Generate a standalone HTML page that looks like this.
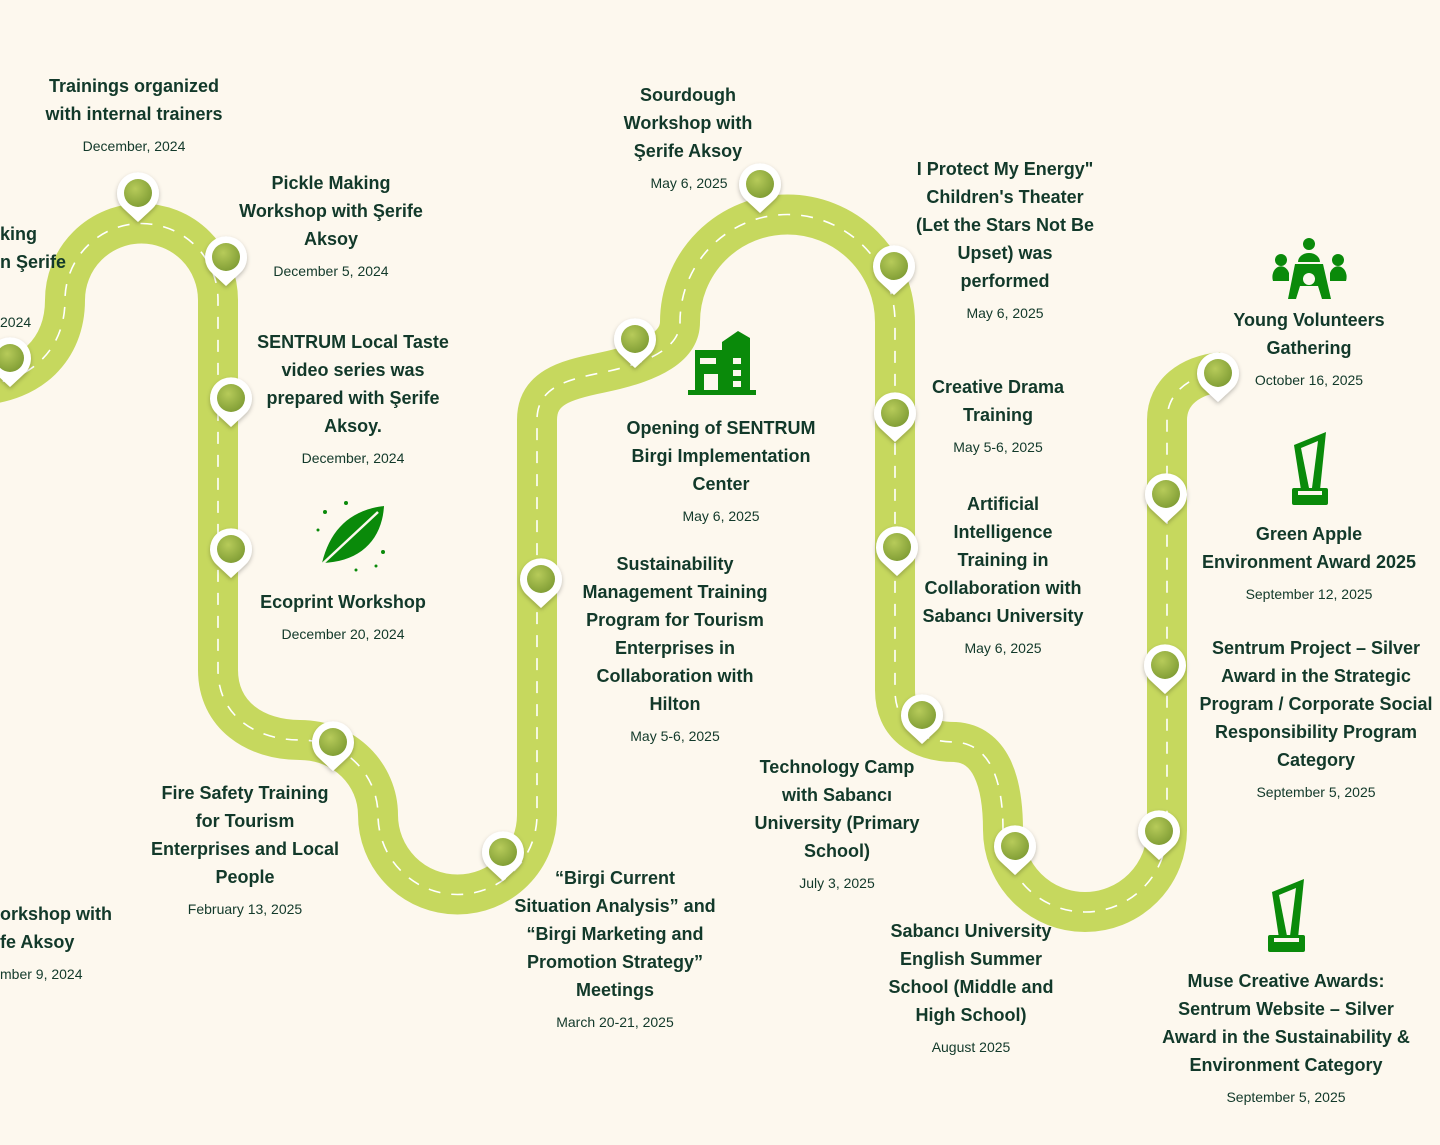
<!DOCTYPE html>
<html><head><meta charset="utf-8"><style>
html,body{margin:0;padding:0}
body{width:1440px;height:1145px;background:#fdf8ee;position:relative;overflow:hidden;font-family:"Liberation Sans",sans-serif;color:#12392a}
svg{position:absolute;left:0;top:0}
.t{position:absolute;transform:translateX(-50%);white-space:nowrap;text-align:center;font-weight:bold;font-size:18px;line-height:28px}
.d{position:absolute;transform:translateX(-50%);white-space:nowrap;text-align:center;font-size:14px;line-height:18px}
.l{transform:none;text-align:left}
</style></head><body>
<svg width="1440" height="1145" viewBox="0 0 1440 1145">
<defs>
<radialGradient id="g" cx="40%" cy="35%" r="70%"><stop offset="0" stop-color="#b7cb5a"/><stop offset="1" stop-color="#7f9c34"/></radialGradient>
<filter id="sh" x="-50%" y="-50%" width="200%" height="200%"><feDropShadow dx="0" dy="2" stdDeviation="2" flood-color="#000" flood-opacity="0.25"/></filter>
<g id="pin"><path d="M0 29 L-14 16 A21 21 0 1 1 14 16 Z" fill="#fff" filter="url(#sh)"/><circle r="14" fill="url(#g)"/></g>
</defs>
<path d="M -20 385 C 30 382, 65 350, 65 300 L 65 300 A 76.5 76.5 0 0 1 218 300 L 218 670 C 218 715, 255 740, 300 740 C 345 740, 378 775, 378 815 A 79.5 79.5 0 0 0 537 815 L 537 420 C 537 388, 565 380, 600 373 C 655 362, 680 345, 680 322 A 107.5 107.5 0 0 1 895 322 L 895 690 C 895 725, 920 742, 955 742 C 990 744, 1003 780, 1003 830 A 82 82 0 0 0 1167 830 L 1167 420 C 1167 392, 1190 375, 1222 372" fill="none" stroke="#c6d85e" stroke-width="40"/>
<path d="M -20 385 C 30 382, 65 350, 65 300 L 65 300 A 76.5 76.5 0 0 1 218 300 L 218 670 C 218 715, 255 740, 300 740 C 345 740, 378 775, 378 815 A 79.5 79.5 0 0 0 537 815 L 537 420 C 537 388, 565 380, 600 373 C 655 362, 680 345, 680 322 A 107.5 107.5 0 0 1 895 322 L 895 690 C 895 725, 920 742, 955 742 C 990 744, 1003 780, 1003 830 A 82 82 0 0 0 1167 830 L 1167 420 C 1167 392, 1190 375, 1222 372" fill="none" stroke="#fff" stroke-width="1.6" stroke-dasharray="12 11"/>
<use href="#pin" x="10" y="358"/>
<use href="#pin" x="138" y="193"/>
<use href="#pin" x="226" y="257"/>
<use href="#pin" x="231" y="398"/>
<use href="#pin" x="231" y="549"/>
<use href="#pin" x="333" y="742"/>
<use href="#pin" x="503" y="852"/>
<use href="#pin" x="541" y="579"/>
<use href="#pin" x="635" y="339"/>
<use href="#pin" x="760" y="184"/>
<use href="#pin" x="894" y="266"/>
<use href="#pin" x="895" y="413"/>
<use href="#pin" x="897" y="547"/>
<use href="#pin" x="922" y="715"/>
<use href="#pin" x="1015" y="846"/>
<use href="#pin" x="1159" y="831"/>
<use href="#pin" x="1165" y="665"/>
<use href="#pin" x="1166" y="494"/>
<use href="#pin" x="1218" y="373"/>
<g fill="#0a8a0a">
<path d="M695 350 L722 350 L722 342 L738 331 L750 338 L750 390 L695 390 Z"/>
<rect x="688" y="390" width="68" height="5"/>
<rect x="700" y="358" width="16" height="6" fill="#fdf8ee"/>
<rect x="704" y="374" width="14" height="16" fill="#fdf8ee"/>
<rect x="733" y="358" width="8" height="6" fill="#fdf8ee"/>
<rect x="733" y="370" width="8" height="6" fill="#fdf8ee"/>
<rect x="733" y="381" width="8" height="6" fill="#fdf8ee"/>
</g>
<g fill="#0a8a0a">
<path d="M322 563 C 330 530, 350 510, 384 506 C 382 540, 360 562, 322 563 Z"/>
<path d="M318 568 L378 512" stroke="#fdf8ee" stroke-width="2.5"/>
<circle cx="346" cy="503" r="2"/><circle cx="325" cy="512" r="2"/><circle cx="318" cy="530" r="1.5"/><circle cx="383" cy="552" r="2"/><circle cx="376" cy="566" r="1.5"/><circle cx="356" cy="570" r="1.5"/>
</g>
<g fill="#0a8a0a">
<circle cx="1309" cy="244" r="6"/><path d="M1298 262 a11 9 0 0 1 22 0 Z"/>
<circle cx="1281" cy="260" r="6"/><path d="M1273 281 a8 10 0 0 1 16 -8 L1289 281 Z"/>
<circle cx="1338" cy="260" r="6"/><path d="M1330 273 a8 10 0 0 1 16 8 L1330 281 Z"/>
<path d="M1295 264 L1323 264 L1331 299 L1322 299 L1318 286 L1300 286 L1296 299 L1288 299 Z"/>
<circle cx="1309" cy="279" r="6" fill="#fdf8ee"/>
</g>
<g fill="#0a8a0a">
<path d="M1294 445 L1326 432 L1320 490 L1301 490 Z"/><path d="M1301 448 L1318 441 L1312 488 L1309 488 Z" fill="#fdf8ee"/>
<rect x="1292" y="488" width="36" height="17" rx="2"/><rect x="1298" y="491" width="24" height="4" fill="#fdf8ee"/>
<path d="M1272 892 L1304 879 L1298 938 L1279 938 Z"/><path d="M1279 895 L1296 888 L1290 936 L1287 936 Z" fill="#fdf8ee"/>
<rect x="1268" y="935" width="37" height="17" rx="2"/><rect x="1274" y="938" width="25" height="4" fill="#fdf8ee"/>
</g>
</svg>

<div class="t" style="left:134px;top:72px">Trainings organized<br>with internal trainers</div>
<div class="d" style="left:134px;top:137px">December, 2024</div>
<div class="t l" style="left:0;top:220px">king<br>n Şerife</div>
<div class="d l" style="left:0;top:313px">2024</div>
<div class="t" style="left:331px;top:169px">Pickle Making<br>Workshop with Şerife<br>Aksoy</div>
<div class="d" style="left:331px;top:262px">December 5, 2024</div>
<div class="t" style="left:353px;top:328px">SENTRUM Local Taste<br>video series was<br>prepared with Şerife<br>Aksoy.</div>
<div class="d" style="left:353px;top:449px">December, 2024</div>
<div class="t" style="left:343px;top:588px">Ecoprint Workshop</div>
<div class="d" style="left:343px;top:625px">December 20, 2024</div>
<div class="t" style="left:245px;top:779px">Fire Safety Training<br>for Tourism<br>Enterprises and Local<br>People</div>
<div class="d" style="left:245px;top:900px">February 13, 2025</div>
<div class="t l" style="left:0;top:900px">orkshop with<br>fe Aksoy</div>
<div class="d l" style="left:0;top:965px">mber 9, 2024</div>
<div class="t" style="left:688px;top:81px">Sourdough<br>Workshop with<br>Şerife Aksoy</div>
<div class="d" style="left:689px;top:174px">May 6, 2025</div>
<div class="t" style="left:721px;top:414px">Opening of SENTRUM<br>Birgi Implementation<br>Center</div>
<div class="d" style="left:721px;top:507px">May 6, 2025</div>
<div class="t" style="left:675px;top:550px">Sustainability<br>Management Training<br>Program for Tourism<br>Enterprises in<br>Collaboration with<br>Hilton</div>
<div class="d" style="left:675px;top:727px">May 5-6, 2025</div>
<div class="t" style="left:615px;top:864px">“Birgi Current<br>Situation Analysis” and<br>“Birgi Marketing and<br>Promotion Strategy”<br>Meetings</div>
<div class="d" style="left:615px;top:1013px">March 20-21, 2025</div>
<div class="t" style="left:1005px;top:155px">I Protect My Energy"<br>Children's Theater<br>(Let the Stars Not Be<br>Upset) was<br>performed</div>
<div class="d" style="left:1005px;top:304px">May 6, 2025</div>
<div class="t" style="left:998px;top:373px">Creative Drama<br>Training</div>
<div class="d" style="left:998px;top:438px">May 5-6, 2025</div>
<div class="t" style="left:1003px;top:490px">Artificial<br>Intelligence<br>Training in<br>Collaboration with<br>Sabancı University</div>
<div class="d" style="left:1003px;top:639px">May 6, 2025</div>
<div class="t" style="left:837px;top:753px">Technology Camp<br>with Sabancı<br>University (Primary<br>School)</div>
<div class="d" style="left:837px;top:874px">July 3, 2025</div>
<div class="t" style="left:971px;top:917px">Sabancı University<br>English Summer<br>School (Middle and<br>High School)</div>
<div class="d" style="left:971px;top:1038px">August 2025</div>
<div class="t" style="left:1309px;top:306px">Young Volunteers<br>Gathering</div>
<div class="d" style="left:1309px;top:371px">October 16, 2025</div>
<div class="t" style="left:1309px;top:520px">Green Apple<br>Environment Award 2025</div>
<div class="d" style="left:1309px;top:585px">September 12, 2025</div>
<div class="t" style="left:1316px;top:634px">Sentrum Project – Silver<br>Award in the Strategic<br>Program / Corporate Social<br>Responsibility Program<br>Category</div>
<div class="d" style="left:1316px;top:783px">September 5, 2025</div>
<div class="t" style="left:1286px;top:967px">Muse Creative Awards:<br>Sentrum Website – Silver<br>Award in the Sustainability &amp;<br>Environment Category</div>
<div class="d" style="left:1286px;top:1088px">September 5, 2025</div>
</body></html>
